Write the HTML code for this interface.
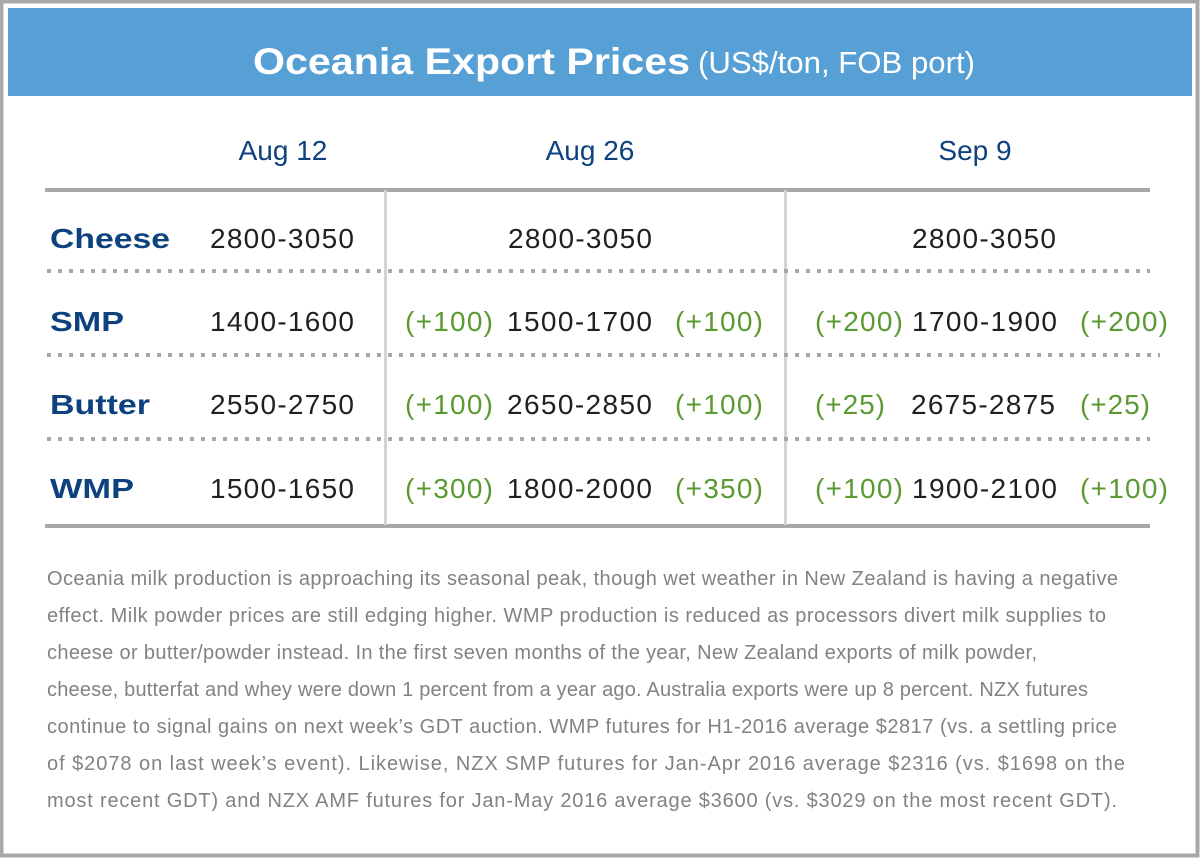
<!DOCTYPE html>
<html><head><meta charset="utf-8"><style>html,body{margin:0;padding:0;background:#fff}svg{display:block}</style></head>
<body>
<svg width="1200" height="858" viewBox="0 0 1200 858" xmlns="http://www.w3.org/2000/svg" font-family="'Liberation Sans Narrow','Liberation Sans',sans-serif">
<rect x="1.5" y="1.5" width="1196" height="854" fill="#fff" stroke="#a7a8aa" stroke-width="4"/>
<rect x="8" y="8" width="1184" height="88" fill="#56a0d5"/>
<text x="253" y="74" fill="#fff" font-family="'Liberation Sans',sans-serif" font-weight="bold" font-size="37" textLength="437" lengthAdjust="spacingAndGlyphs">Oceania Export Prices</text>
<text x="698" y="73" fill="#fff" font-size="31" textLength="277" lengthAdjust="spacingAndGlyphs">(US$/ton, FOB port)</text>
<g fill="#0d427f" font-size="28" text-anchor="middle">
<text x="283" y="160">Aug 12</text><text x="590" y="160">Aug 26</text><text x="975" y="160">Sep 9</text>
</g>
<rect x="45" y="188" width="1105" height="4" fill="#a7a8aa"/>
<rect x="45" y="524" width="1105" height="4" fill="#a7a8aa"/>
<rect x="384" y="190" width="3" height="335" fill="#d3d4d6"/>
<rect x="784" y="190" width="3" height="335" fill="#d3d4d6"/>
<g stroke="#a7a8aa" stroke-width="4" stroke-dasharray="4 7">
<line x1="47" y1="271" x2="1150" y2="271"/><line x1="47" y1="355" x2="1160" y2="355"/><line x1="47" y1="439" x2="1150" y2="439"/>
</g>
<g fill="#0d427f" font-family="'Liberation Sans',sans-serif" font-weight="bold" font-size="28">
<text x="50" y="248" textLength="120" lengthAdjust="spacingAndGlyphs">Cheese</text>
<text x="50" y="331" textLength="74" lengthAdjust="spacingAndGlyphs">SMP</text>
<text x="50" y="414" textLength="100" lengthAdjust="spacingAndGlyphs">Butter</text>
<text x="50" y="498" textLength="84" lengthAdjust="spacingAndGlyphs">WMP</text>
</g>
<g fill="#231f20" font-size="28" lengthAdjust="spacingAndGlyphs">
<text x="210" y="248" textLength="144">2800-3050</text>
<text x="508" y="248" textLength="144">2800-3050</text>
<text x="912" y="248" textLength="144">2800-3050</text>
<text x="210" y="331" textLength="144">1400-1600</text>
<text x="507" y="331" textLength="145">1500-1700</text>
<text x="912" y="331" textLength="145">1700-1900</text>
<text x="210" y="414" textLength="144">2550-2750</text>
<text x="507" y="414" textLength="145">2650-2850</text>
<text x="911" y="414" textLength="144">2675-2875</text>
<text x="210" y="498" textLength="144">1500-1650</text>
<text x="507" y="498" textLength="145">1800-2000</text>
<text x="912" y="498" textLength="145">1900-2100</text>
</g>
<g fill="#5b9a33" font-size="28" lengthAdjust="spacingAndGlyphs">
<text x="405" y="331" textLength="88">(+100)</text><text x="675" y="331" textLength="88">(+100)</text>
<text x="815" y="331" textLength="88">(+200)</text><text x="1080" y="331" textLength="88">(+200)</text>
<text x="405" y="414" textLength="88">(+100)</text><text x="675" y="414" textLength="88">(+100)</text>
<text x="815" y="414" textLength="70">(+25)</text><text x="1080" y="414" textLength="70">(+25)</text>
<text x="405" y="498" textLength="88">(+300)</text><text x="675" y="498" textLength="88">(+350)</text>
<text x="815" y="498" textLength="88">(+100)</text><text x="1080" y="498" textLength="88">(+100)</text>
</g>
<g fill="#808285" font-size="20" lengthAdjust="spacingAndGlyphs">
<text x="47" y="585" textLength="1071">Oceania milk production is approaching its seasonal peak, though wet weather in New Zealand is having a negative</text>
<text x="47" y="622" textLength="1059">effect. Milk powder prices are still edging higher. WMP production is reduced as processors divert milk supplies to</text>
<text x="47" y="659" textLength="990">cheese or butter/powder instead. In the first seven months of the year, New Zealand exports of milk powder,</text>
<text x="47" y="696" textLength="1041">cheese, butterfat and whey were down 1 percent from a year ago. Australia exports were up 8 percent. NZX futures</text>
<text x="47" y="733" textLength="1070">continue to signal gains on next week’s GDT auction. WMP futures for H1-2016 average $2817 (vs. a settling price</text>
<text x="47" y="770" textLength="1078">of $2078 on last week’s event). Likewise, NZX SMP futures for Jan-Apr 2016 average $2316 (vs. $1698 on the</text>
<text x="47" y="807" textLength="1070">most recent GDT) and NZX AMF futures for Jan-May 2016 average $3600 (vs. $3029 on the most recent GDT).</text>
</g>
</svg>
</body></html>
